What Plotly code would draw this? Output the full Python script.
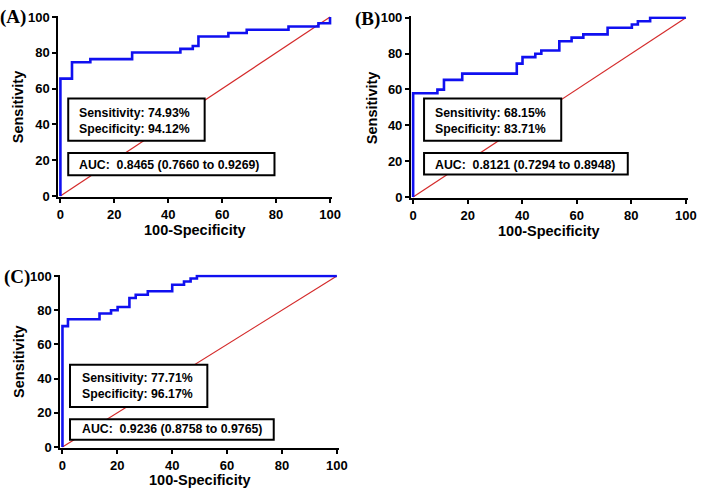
import plotly.graph_objects as go

# ROC step points (100-Specificity, Sensitivity)
fpr_a = [0, 0, 4.3, 11.1, 26.6, 44.5, 49.1, 51.2, 62.3, 69.1, 84.6, 95.7, 100]
tpr_a = [0, 65.6, 74.7, 76.5, 80.2, 82.2, 83.8, 89.1, 91.1, 92.9, 94.7, 96.5, 100]

fpr_b = [0, 0, 8.9, 11.3, 18.0, 38.0, 40.1, 44.8, 47.0, 53.6, 58.1, 62.4, 71.3, 80.2, 82.4, 86.9, 100]
tpr_b = [0, 57.9, 59.9, 65.3, 68.8, 74.4, 78.0, 79.9, 81.7, 86.9, 88.9, 90.7, 94.4, 96.2, 98.0, 100, 100]

fpr_c = [0, 0, 2.0, 13.5, 17.7, 20.1, 24.4, 26.7, 31.1, 40.0, 44.3, 46.7, 49.0, 100]
tpr_c = [0, 70.7, 74.7, 78.1, 80.0, 81.9, 87.1, 89.0, 91.1, 94.9, 96.8, 98.5, 100, 100]

ref_line = [0, 100]

panel_labels = ["(A)", "(B)", "(C)"]
sens_text = ["Sensitivity: 74.93%", "Sensitivity: 68.15%", "Sensitivity: 77.71%"]
spec_text = ["Specificity: 94.12%", "Specificity: 83.71%", "Specificity: 96.17%"]
auc_text = ["AUC:  0.8465 (0.7660 to 0.9269)",
            "AUC:  0.8121 (0.7294 to 0.8948)",
            "AUC:  0.9236 (0.8758 to 0.9765)"]
tick_vals = [0, 20, 40, 60, 80, 100]
x_title = "100-Specificity"
y_title = "Sensitivity"

BLUE = "#1010f0"
RED = "#d42a2a"

fig = go.Figure()
curves = [(fpr_a, tpr_a), (fpr_b, tpr_b), (fpr_c, tpr_c)]
for i, (fx, ty) in enumerate(curves):
    xa = "x" if i == 0 else f"x{i+1}"
    ya = "y" if i == 0 else f"y{i+1}"
    fig.add_trace(go.Scatter(x=ref_line, y=ref_line, mode="lines",
                             line=dict(color=RED, width=1.2), xaxis=xa, yaxis=ya,
                             showlegend=False, hoverinfo="skip"))
    fig.add_trace(go.Scatter(x=fx, y=ty, mode="lines", line_shape="hv",
                             line=dict(color=BLUE, width=2.6), xaxis=xa, yaxis=ya,
                             showlegend=False))

x_domains = [[0.0819, 0.4738], [0.5865, 0.9829], [0.0848, 0.4836]]
y_domains = [[0.6044, 0.9802], [0.6024, 0.9788], [0.0859, 0.4450]]

tickfont = dict(family="Liberation Sans, Arial", size=13, color="black", weight="bold")
axis_common = dict(range=[-0.8, 100.8], showgrid=False, zeroline=False,
                   showline=True, linecolor="black", linewidth=2,
                   ticks="outside", ticklen=4, tickwidth=2, tickcolor="black",
                   tickvals=tick_vals, tickfont=tickfont, fixedrange=True)

layout = dict(width=709, height=496, margin=dict(l=0, r=0, t=0, b=0),
              paper_bgcolor="white", plot_bgcolor="white", showlegend=False)
for i in range(3):
    xk = "xaxis" if i == 0 else f"xaxis{i+1}"
    yk = "yaxis" if i == 0 else f"yaxis{i+1}"
    ya = "y" if i == 0 else f"y{i+1}"
    xa = "x" if i == 0 else f"x{i+1}"
    layout[xk] = dict(domain=x_domains[i], anchor=ya, **axis_common)
    layout[yk] = dict(domain=y_domains[i], anchor=xa, **axis_common)
fig.update_layout(**layout)

# boxes (data coords of each subplot)
box1 = [(2.9, 30.9, 53.5, 54.5), (4.0, 31.4, 54.3, 55.0), (2.75, 23.4, 52.8, 48.1)]
box2 = [(2.9, 11.6, 79.4, 24.0), (4.0, 12.5, 78.7, 24.5), (2.75, 4.2, 77.0, 16.2)]
text_x = [6.3, 7.3, 6.3]
text1_y = [42.1, 42.6, 35.4]
text2_y = [17.6, 17.8, 10.3]

boxfont = dict(family="Liberation Sans, Arial", size=12.3, color="black", weight="bold")
for i in range(3):
    xa = "x" if i == 0 else f"x{i+1}"
    ya = "y" if i == 0 else f"y{i+1}"
    for b in (box1[i], box2[i]):
        fig.add_shape(type="rect", xref=xa, yref=ya, x0=b[0], y0=b[1], x1=b[2], y1=b[3],
                      fillcolor="white", line=dict(color="black", width=2), layer="above")
    fig.add_annotation(xref=xa, yref=ya, x=text_x[i], y=text1_y[i], xanchor="left",
                       yanchor="middle", align="left", showarrow=False, font=boxfont,
                       text=sens_text[i] + "<br>" + spec_text[i])
    fig.add_annotation(xref=xa, yref=ya, x=text_x[i], y=text2_y[i], xanchor="left",
                       yanchor="middle", align="left", showarrow=False, font=boxfont,
                       text=auc_text[i])

# axis titles and panel labels (paper coords)
titlefont = dict(family="Liberation Sans, Arial", size=14.5, color="black", weight="bold")
xt_pos = [(197 / 709, 1 - 229.5 / 496), (556 / 709, 1 - 231 / 496), (201.5 / 709, 1 - 486 / 496)]
yt_pos = [(17 / 709, 1 - 103 / 496), (377 / 709, 1 - 104 / 496), (18 / 709, 1 - 364 / 496)]
pl_pos = [(27 / 709, 1 - 11 / 496), (386 / 709, 1 - 13 / 496), (31 / 709, 1 - 278 / 496)]
for i in range(3):
    fig.add_annotation(xref="paper", yref="paper", x=xt_pos[i][0], y=xt_pos[i][1],
                       text=x_title, showarrow=False, font=titlefont,
                       xanchor="center", yanchor="middle")
    fig.add_annotation(xref="paper", yref="paper", x=yt_pos[i][0], y=yt_pos[i][1],
                       text=y_title, showarrow=False, font=titlefont, textangle=-90,
                       xanchor="center", yanchor="middle")
    fig.add_annotation(xref="paper", yref="paper", x=pl_pos[i][0], y=pl_pos[i][1],
                       text=panel_labels[i], showarrow=False,
                       font=dict(family="Liberation Serif, Times New Roman", size=19,
                                 color="black", weight="bold"),
                       xanchor="right", yanchor="middle")

fig.write_html("out.html", config={"displayModeBar": False},
               post_script="document.body.style.margin='0';document.body.style.overflow='hidden';")
